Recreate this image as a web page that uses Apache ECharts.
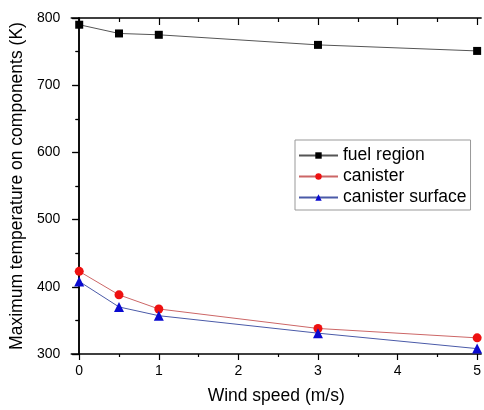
<!DOCTYPE html>
<html><head><meta charset="utf-8">
<script src="https://cdn.jsdelivr.net/npm/echarts@6/dist/echarts.min.js"></script>
<style>html,body{margin:0;padding:0;background:#fff}#c{width:484px;height:410px}</style>
</head><body><div id="c"></div>
<script>
const windSpeed = [0, 0.5, 1, 3, 5];
const fuelRegion = [790, 777, 775, 760, 751];
const canister = [423, 388, 367, 338, 324];
const canisterSurface = [408, 370, 357, 331, 308];
const xMajorTicks = [0, 1, 2, 3, 4, 5];
const xMinorTicks = [0.5, 1.5, 2.5, 3.5, 4.5];
const FONT = 'Liberation Sans';

function pairs(ys){ return windSpeed.map((x,i)=>[x, ys[i]]); }

const xBase = {type:'value', min:-0.1, max:5.05, splitLine:{show:false}, gridIndex:0};
const chart = echarts.init(document.getElementById('c'));
chart.setOption({
  animation:false,
  grid:{left:68, top:18, right:1, bottom:56, containLabel:false},
  xAxis:[
    Object.assign({}, xBase, {position:'bottom', name:'Wind speed (m/s)', nameLocation:'middle', nameGap:33,
      nameTextStyle:{fontFamily:FONT, fontSize:17.5, color:'#000'},
      axisLine:{lineStyle:{color:'#000', width:1.5}},
      axisTick:{customValues:xMajorTicks, length:6, lineStyle:{color:'#000', width:1.2}},
      axisLabel:{customValues:xMajorTicks, fontFamily:FONT, fontSize:14, color:'#000', margin:10}}),
    Object.assign({}, xBase, {position:'bottom', axisLine:{show:false},
      axisTick:{customValues:xMinorTicks, length:3, lineStyle:{color:'#000', width:1.2}},
      axisLabel:{show:false}}),
    Object.assign({}, xBase, {position:'top', axisLine:{lineStyle:{color:'#000', width:1.5}},
      axisTick:{customValues:xMajorTicks, inside:true, length:7, lineStyle:{color:'#000', width:1.2}},
      axisLabel:{show:false}}),
    Object.assign({}, xBase, {position:'top', axisLine:{show:false},
      axisTick:{customValues:xMinorTicks, inside:true, length:4, lineStyle:{color:'#000', width:1.2}},
      axisLabel:{show:false}})
  ],
  yAxis:[
    {type:'value', min:300, max:800, interval:100, position:'left',
      name:'Maximum temperature on components (K)', nameLocation:'middle', nameGap:40,
      nameTextStyle:{fontFamily:FONT, fontSize:17.5, color:'#000'},
      splitLine:{show:false},
      axisLine:{show:true, lineStyle:{color:'#000', width:1.5}},
      axisTick:{show:true, length:7, lineStyle:{color:'#000', width:1.2}},
      minorTick:{show:true, splitNumber:2, length:3, lineStyle:{color:'#000', width:1.2}},
      axisLabel:{fontFamily:FONT, fontSize:14, color:'#000', margin:11}},
    {type:'value', min:300, max:800, interval:100, position:'right',
      splitLine:{show:false},
      axisLine:{show:true, lineStyle:{color:'#000', width:1.5}},
      axisTick:{show:true, inside:true, length:7, lineStyle:{color:'#000', width:1.2}},
      minorTick:{show:true, splitNumber:2, length:4, lineStyle:{color:'#000', width:1.2}},
      axisLabel:{show:false}}
  ],
  legend:{orient:'vertical', left:295, top:140, itemWidth:39, itemHeight:8, itemGap:2,
    padding:[6,4,3,3], borderColor:'#999', borderWidth:1,
    textStyle:{fontFamily:FONT, fontSize:17.5, color:'#000', lineHeight:19},
    data:['fuel region','canister','canister surface']},
  series:[
    {name:'fuel region', type:'line', data:pairs(fuelRegion), xAxisIndex:0, yAxisIndex:0,
      symbol:'rect', symbolSize:8, lineStyle:{color:'#555', width:1}, itemStyle:{color:'#000'}},
    {name:'canister', type:'line', data:pairs(canister), xAxisIndex:0, yAxisIndex:0,
      symbol:'circle', symbolSize:9, lineStyle:{color:'#cc6666', width:1}, itemStyle:{color:'#ee1111'}},
    {name:'canister surface', type:'line', data:pairs(canisterSurface), xAxisIndex:0, yAxisIndex:0,
      symbol:'triangle', symbolSize:10, lineStyle:{color:'#4a5aa8', width:1}, itemStyle:{color:'#0a0ad0'}}
  ]
});
</script></body></html>
